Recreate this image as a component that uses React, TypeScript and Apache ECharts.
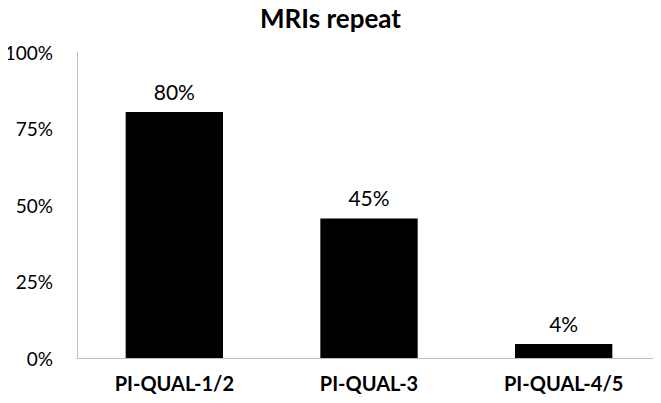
import React, { useEffect, useRef } from "react";
import * as echarts from "echarts";

const categories = ["PI-QUAL-1/2", "PI-QUAL-3", "PI-QUAL-4/5"];
const values = [80.4, 45.6, 4.6];
const valueLabels = ["80%", "45%", "4%"];
const yTicks = [0, 25, 50, 75, 100];

export default function App() {
  const ref = useRef<HTMLDivElement>(null);
  useEffect(() => {
    const chart = echarts.init(ref.current!, null, { renderer: "svg" });
    chart.setOption({
      animation: false,
      backgroundColor: "#ffffff",
      title: {
        text: "MRIs repeat",
        left: "center",
        top: 0,
        textStyle: { fontFamily: "Lato", fontWeight: "bold", fontSize: 26, color: "#000" },
      },
      grid: { left: 77, right: -1, top: 52, bottom: 45, containLabel: false },
      xAxis: {
        type: "category",
        data: categories,
        axisLine: { lineStyle: { color: "#bfbfbf", width: 1 } },
        axisTick: { show: false },
        axisLabel: {
          fontFamily: "Lato",
          fontWeight: "bold",
          fontSize: 20,
          color: "#000",
          margin: 15,
        },
      },
      yAxis: {
        type: "value",
        min: 0,
        max: 100,
        interval: 25,
        axisLine: { show: true, lineStyle: { color: "#bfbfbf", width: 1 } },
        axisTick: { show: false },
        splitLine: { show: false },
        axisLabel: {
          fontFamily: "Lato",
          fontSize: 19,
          color: "#000",
          margin: 24,
          formatter: (v: number) => (yTicks.includes(v) ? v + "%" : ""),
        },
      },
      series: [
        {
          type: "bar",
          data: values,
          barWidth: "50%",
          itemStyle: { color: "#000" },
          label: {
            show: true,
            position: "top",
            distance: 10,
            fontFamily: "Lato",
            fontSize: 21,
            color: "#000",
            formatter: (p: any) => valueLabels[p.dataIndex],
          },
        },
      ],
    });
    return () => chart.dispose();
  }, []);
  return <div ref={ref} style={{ width: 661, height: 403, margin: -8 }} />;
}
